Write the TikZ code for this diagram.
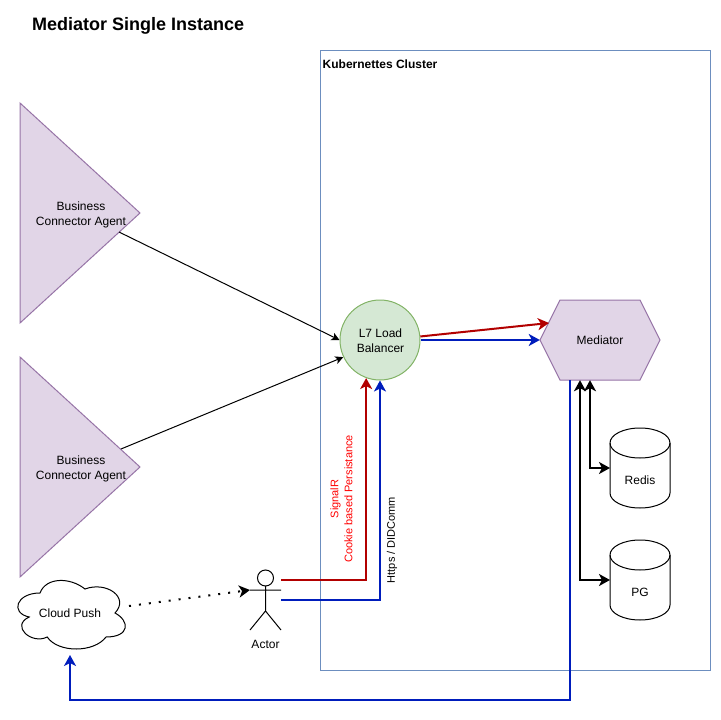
\documentclass[tikz,border=0pt]{standalone}
\usepackage{fontspec}
\setmainfont{Liberation Sans}
\usetikzlibrary{arrows.meta}
\definecolor{lilacfill}{HTML}{E1D5E7}
\definecolor{lilacline}{HTML}{9673A6}
\definecolor{greenfill}{HTML}{D5E8D4}
\definecolor{greenline}{HTML}{82B366}
\definecolor{clusterline}{HTML}{6C8EBF}
\definecolor{redline}{HTML}{B20000}
\definecolor{blueline}{HTML}{001DBC}
\tikzstyle{label} = [rectangle, text centered, align=center, inner sep=0pt, font=\fontsize{12}{15}\selectfont]
\tikzstyle{smalllabel} = [label, font=\fontsize{11}{14}\selectfont]
\tikzstyle{shapeline} = [line width=1pt, line join=miter]
\tikzstyle{arrow} = [line width=1pt, -{Stealth[length=8pt,width=8pt,inset=2pt]}]
\tikzstyle{bigarrow} = [line width=2pt, -{Stealth[length=11pt,width=12pt,inset=3pt]}]
\tikzstyle{bothways} = [line width=2pt, {Stealth[length=11pt,width=12pt,inset=3pt]}-{Stealth[length=11pt,width=12pt,inset=3pt]}]
\newcommand{\drawAgent}[2]
{
    \draw [shapeline, lilacline, fill=lilacfill] (20,#2-110) -- (140,#2) -- (20,#2+110) -- cycle;
    \node (#1) [label] at (81,#2+1.5) {Business\\Connector Agent};
}
\newcommand{\drawStore}[3]
{
    \draw [shapeline, fill=white] (610,#2+15) arc (180:0:30pt and 15pt) -- (670,#2+65)
        arc (0:-180:30pt and 15pt) -- cycle;
    \draw [shapeline] (610,#2+15) arc (180:360:30pt and 15pt);
    \node (#1) [label] at (640,#2+52) {#3};
    \coordinate (#1In) at (610,#2+40);
}
\begin{document}
\begin{tikzpicture}[x=1pt,y=-1pt]
\useasboundingbox (0,0) rectangle (721,720);

\coordinate (agentAOut) at (119,232);
\coordinate (agentBOut) at (121,449);
\coordinate (mediatorRed) at (549,323);
\coordinate (cloudIn) at (70,655);
\coordinate (cloudOut) at (129,606);
\coordinate (actorIn) at (250,590);
\coordinate (actorRed) at (281,580);
\coordinate (actorBlue) at (281,600);

\node (title) [anchor=west, inner sep=0pt, font=\bfseries\fontsize{18}{22}\selectfont] at (32,26) {Mediator Single Instance};

\draw [shapeline, clusterline] (320.5,50.5) rectangle (710.5,670.5);
\node (cluster) [smalllabel, anchor=west, font=\bfseries\fontsize{12}{15}\selectfont] at (322.5,64) {Kubernettes Cluster};

\drawAgent{agentA}{213}
\drawAgent{agentB}{467}

\node (lb) [circle, shapeline, draw=greenline, fill=greenfill, minimum size=80pt, inner sep=0pt] at (380,340) {};
\node (lbText) [label] at (380.5,340.8) {L7 Load\\Balancer};

\draw [shapeline, lilacline, fill=lilacfill] (540,340) -- (560,300) -- (640,300) -- (660,340) -- (640,380) -- (560,380) -- cycle;
\node (mediator) [label, minimum width=120pt, minimum height=80pt] at (600,340) {Mediator};

\drawStore{redis}{428}{Redis}
\drawStore{pg}{540}{PG}

% cloud
\draw [shapeline, fill=white] (40,593) .. controls (16,593) and (10,613) .. (29.2,617)
    .. controls (10,625.8) and (31.6,645) .. (47.2,637)
    .. controls (58,653) and (94,653) .. (106,637)
    .. controls (130,637) and (130,621) .. (115,613)
    .. controls (130,597) and (106,581) .. (85,589)
    .. controls (70,577) and (46,577) .. (40,593) -- cycle;
\node (cloud) [label] at (70,613) {Cloud Push};

% actor
\draw [shapeline] (265.5,578) circle (8pt);
\draw [shapeline] (265.5,586) -- (265.5,611) (250,590) -- (281,590)
    (250,630) -- (265.5,611) -- (281,630);
\node (actor) [label] at (265.5,644) {Actor};

\draw [arrow] (agentAOut) -- (lb.west);
\draw [arrow] (agentBOut) -- (lb.205);

\draw [bigarrow, redline] (lb.5) -- (mediatorRed);
\draw [bigarrow, blueline] (lb.east) -- (mediator.west);
\draw [bigarrow, redline] (actorRed) -| (lb.250);
\draw [bigarrow, blueline] (actorBlue) -| (lb.south);

\draw [bigarrow, dash pattern=on 2pt off 8pt] (cloudOut) -- (actorIn);

\draw [bigarrow, blueline] ([xshift=-30pt]mediator.south) -- (570,700) -| (cloudIn);
\draw [bothways] ([xshift=-10pt]mediator.south) |- (redisIn) ;
\draw [bothways] ([xshift=-20pt]mediator.south) |- (pgIn);

\node (signalr) [smalllabel, rotate=90, text=red] at (341.5,499) {SignalR\\Cookie based Persistance};
\node (https) [smalllabel, rotate=90] at (392,540) {Https / DIDComm};

\end{tikzpicture}
\end{document}
